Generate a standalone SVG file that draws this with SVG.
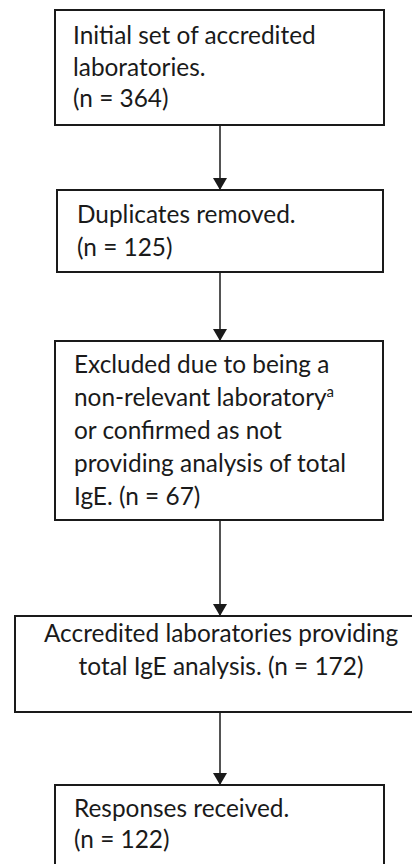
<svg xmlns="http://www.w3.org/2000/svg" width="412" height="864" viewBox="0 0 412 864">
<style>
.box{fill:#fff;stroke:#1a1a1a;stroke-width:2}
.t{font-family:Lato,"Open Sans","Liberation Sans",sans-serif;font-size:24.4px;fill:#1a1a1a}
.c{text-anchor:middle}
.con{stroke:#1a1a1a;stroke-width:1.5;fill:none}
</style>
<defs>
<marker id="ah" markerWidth="12" markerHeight="14" refX="12" refY="7" orient="auto" markerUnits="userSpaceOnUse" viewBox="0 0 12 14">
<path d="M0,0 L12,7 L0,14 Z" fill="#1a1a1a"/>
</marker>
</defs>
<rect width="412" height="864" fill="#fff"/>
<g id="connectors">
<line class="con" x1="220" y1="125" x2="220" y2="190" marker-end="url(#ah)"/>
<line class="con" x1="220" y1="272" x2="220" y2="341" marker-end="url(#ah)"/>
<line class="con" x1="220" y1="520" x2="220" y2="616" marker-end="url(#ah)"/>
<line class="con" x1="220" y1="712" x2="220" y2="785" marker-end="url(#ah)"/>
</g>
<g id="n1">
<rect class="box" x="55" y="10" width="329" height="115"/>
<text class="t" x="73" y="44">Initial set of accredited</text>
<text class="t" x="73" y="76">laboratories.</text>
<text class="t" x="73" y="107">(n = 364)</text>
</g>
<g id="n2">
<rect class="box" x="57" y="190" width="326" height="82"/>
<text class="t" x="77" y="223">Duplicates removed.</text>
<text class="t" x="77" y="256">(n = 125)</text>
</g>
<g id="n3">
<rect class="box" x="55" y="341" width="328" height="179"/>
<text class="t" x="74" y="373">Excluded due to being a</text>
<text class="t" x="74" y="406">non-relevant laboratory<tspan font-size="15" dy="-9">a</tspan></text>
<text class="t" x="74" y="439">or confirmed as not</text>
<text class="t" x="74" y="472">providing analysis of total</text>
<text class="t" x="74" y="505">IgE. (n = 67)</text>
</g>
<g id="n4">
<rect class="box" x="15" y="616" width="412" height="96"/>
<text class="t c" x="221" y="642">Accredited laboratories providing</text>
<text class="t c" x="221" y="675">total IgE analysis. (n = 172)</text>
</g>
<g id="n5">
<rect class="box" x="55" y="785" width="329" height="90"/>
<text class="t" x="74" y="817">Responses received.</text>
<text class="t" x="74" y="848">(n = 122)</text>
</g>
</svg>
